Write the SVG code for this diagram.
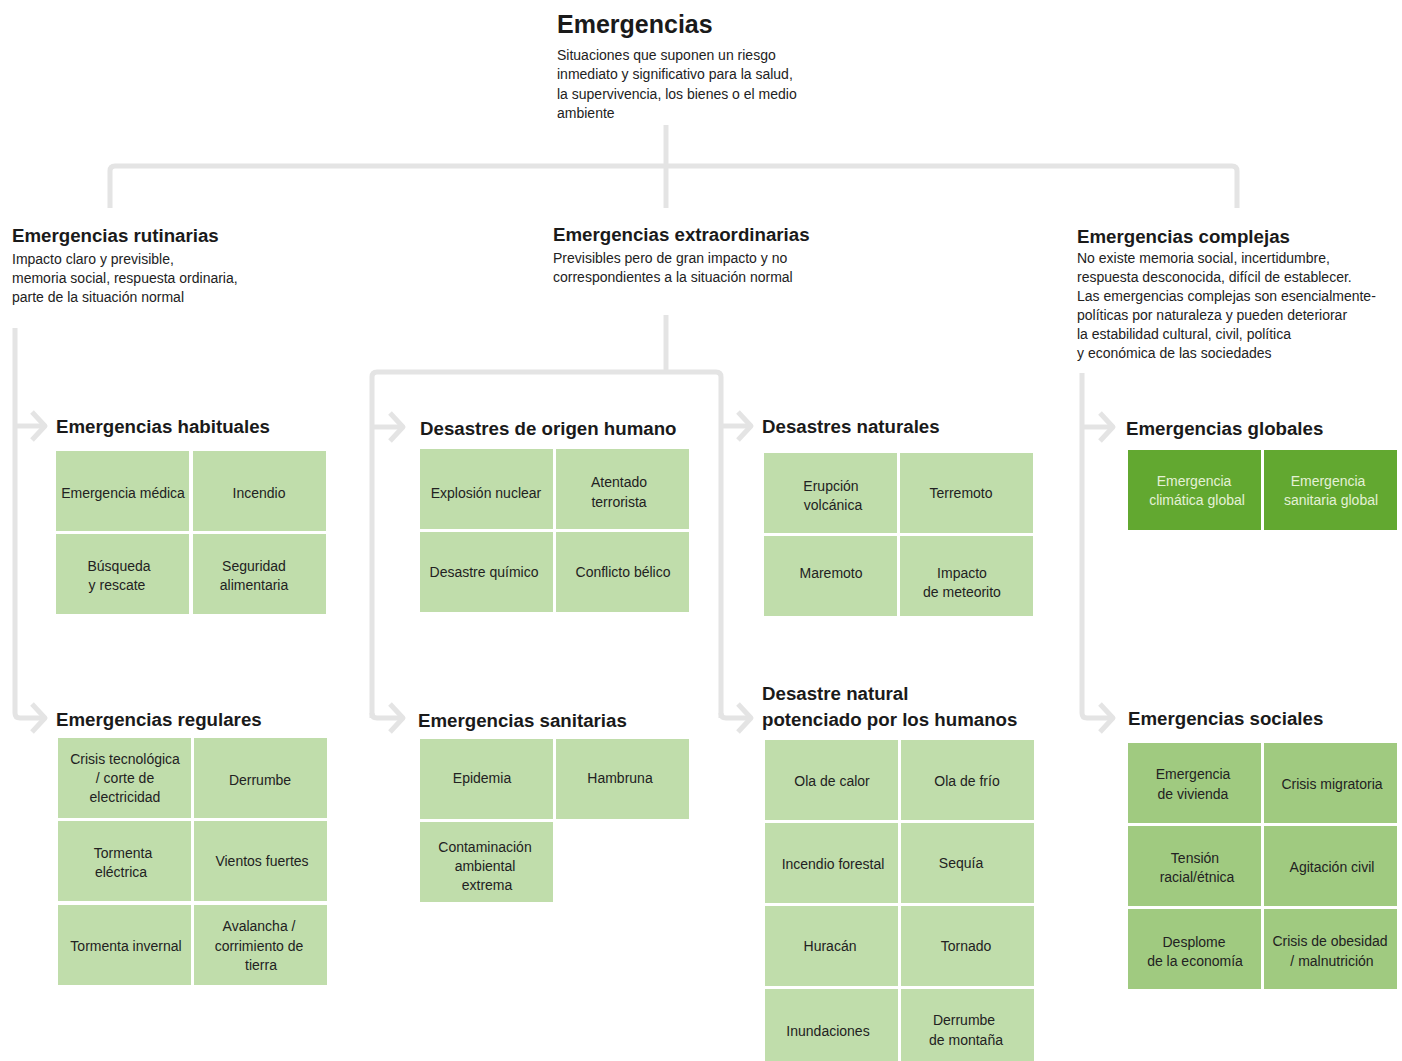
<svg xmlns="http://www.w3.org/2000/svg" width="1402" height="1061" viewBox="0 0 1402 1061">
<defs>
<style>
text{font-family:"Liberation Sans",Arial,sans-serif;fill:#1a1a1a}
.h1{font-size:25px;font-weight:bold}
.h2{font-size:18.7px;font-weight:bold}
.desc{font-size:14px;fill:#222}
.lbl{font-size:14px;fill:#222;text-anchor:middle}
.glbl{font-size:14px;fill:#e4f1d6;text-anchor:middle}
.cell{fill:#c0ddab}
.soc{fill:#a0ca80}
.glob{fill:#62a830}
.con{fill:none;stroke:#e4e4e4;stroke-width:5;stroke-linejoin:round;stroke-linecap:butt}
</style>
</defs>
<rect width="1402" height="1061" fill="#fff"/>
<g id="connectors">
<path class="con" d="M666 125 V208"/>
<path class="con" d="M110 208 V171 Q110 166 115 166 H1232 Q1237 166 1237 171 V208"/>
<path class="con" d="M666 315 V372"/>
<path class="con" d="M372 718 V377 Q372 372 377 372 H716 Q721 372 721 377 V718"/>
<path class="con" d="M15 328 V713 Q15 718 20 718 H45"/>
<path class="con" d="M15 426 H45"/>
<polyline class="con" points="32,412 45,426 32,440"/>
<polyline class="con" points="32,704 45,718 32,732"/>
<path class="con" d="M372 427 H403"/>
<path class="con" d="M372 713 Q372 718 377 718 H403"/>
<polyline class="con" points="390,413 403,427 390,441"/>
<polyline class="con" points="390,704 403,718 390,732"/>
<path class="con" d="M721 426 H751"/>
<path class="con" d="M721 713 Q721 718 726 718 H751"/>
<polyline class="con" points="738,412 751,426 738,440"/>
<polyline class="con" points="738,704 751,718 738,732"/>
<path class="con" d="M1082 373 V713 Q1082 718 1087 718 H1113"/>
<path class="con" d="M1082 427 H1113"/>
<polyline class="con" points="1100,413 1113,427 1100,441"/>
<polyline class="con" points="1100,704 1113,718 1100,732"/>
</g>
<g id="emergencias">
<text class="h1" x="557" y="33">Emergencias</text>
<text class="desc" x="557" y="60">Situaciones que suponen un riesgo</text>
<text class="desc" x="557" y="79">inmediato y significativo para la salud,</text>
<text class="desc" x="557" y="99">la supervivencia, los bienes o el medio</text>
<text class="desc" x="557" y="118">ambiente</text>
</g>
<g id="rutinarias">
<text class="h2" x="12" y="242">Emergencias rutinarias</text>
<text class="desc" x="12" y="264">Impacto claro y previsible,</text>
<text class="desc" x="12" y="283">memoria social, respuesta ordinaria,</text>
<text class="desc" x="12" y="302">parte de la situación normal</text>
</g>
<g id="extraordinarias">
<text class="h2" x="553" y="241">Emergencias extraordinarias</text>
<text class="desc" x="553" y="263">Previsibles pero de gran impacto y no</text>
<text class="desc" x="553" y="282">correspondientes a la situación normal</text>
</g>
<g id="complejas">
<text class="h2" x="1077" y="243">Emergencias complejas</text>
<text class="desc" x="1077" y="263">No existe memoria social, incertidumbre,</text>
<text class="desc" x="1077" y="282">respuesta desconocida, difícil de establecer.</text>
<text class="desc" x="1077" y="301">Las emergencias complejas son esencialmente-</text>
<text class="desc" x="1077" y="320">políticas por naturaleza y pueden deteriorar</text>
<text class="desc" x="1077" y="339">la estabilidad cultural, civil, política</text>
<text class="desc" x="1077" y="358">y económica de las sociedades</text>
</g>
<g id="habituales">
<text class="h2" x="56" y="433">Emergencias habituales</text>
<rect class="cell" x="56" y="451" width="133" height="80"/>
<rect class="cell" x="193" y="451" width="133" height="80"/>
<rect class="cell" x="56" y="534" width="133" height="80"/>
<rect class="cell" x="193" y="534" width="133" height="80"/>
<text class="lbl" x="123" y="498">Emergencia médica</text>
<text class="lbl" x="259" y="498">Incendio</text>
<text class="lbl" x="119" y="571">Búsqueda</text>
<text class="lbl" x="117" y="590">y rescate</text>
<text class="lbl" x="254" y="571">Seguridad</text>
<text class="lbl" x="254" y="590">alimentaria</text>
</g>
<g id="regulares">
<text class="h2" x="56" y="726">Emergencias regulares</text>
<rect class="cell" x="58" y="738" width="133" height="80"/>
<rect class="cell" x="194" y="738" width="133" height="80"/>
<rect class="cell" x="58" y="821" width="133" height="80"/>
<rect class="cell" x="194" y="821" width="133" height="80"/>
<rect class="cell" x="58" y="905" width="133" height="80"/>
<rect class="cell" x="194" y="905" width="133" height="80"/>
<text class="lbl" x="125" y="764">Crisis tecnológica</text>
<text class="lbl" x="125" y="783">/ corte de</text>
<text class="lbl" x="125" y="802">electricidad</text>
<text class="lbl" x="260" y="785">Derrumbe</text>
<text class="lbl" x="123" y="858">Tormenta</text>
<text class="lbl" x="121" y="877">eléctrica</text>
<text class="lbl" x="262" y="866">Vientos fuertes</text>
<text class="lbl" x="126" y="951">Tormenta invernal</text>
<text class="lbl" x="259" y="931">Avalancha /</text>
<text class="lbl" x="259" y="951">corrimiento de</text>
<text class="lbl" x="261" y="970">tierra</text>
</g>
<g id="origen-humano">
<text class="h2" x="420" y="435">Desastres de origen humano</text>
<rect class="cell" x="420" y="449" width="133" height="80"/>
<rect class="cell" x="556" y="449" width="133" height="80"/>
<rect class="cell" x="420" y="532" width="133" height="80"/>
<rect class="cell" x="556" y="532" width="133" height="80"/>
<text class="lbl" x="486" y="498">Explosión nuclear</text>
<text class="lbl" x="619" y="487">Atentado</text>
<text class="lbl" x="619" y="507">terrorista</text>
<text class="lbl" x="484" y="577">Desastre químico</text>
<text class="lbl" x="623" y="577">Conflicto bélico</text>
</g>
<g id="sanitarias">
<text class="h2" x="418" y="727">Emergencias sanitarias</text>
<rect class="cell" x="420" y="739" width="133" height="80"/>
<rect class="cell" x="556" y="739" width="133" height="80"/>
<rect class="cell" x="420" y="822" width="133" height="80"/>
<text class="lbl" x="482" y="783">Epidemia</text>
<text class="lbl" x="620" y="783">Hambruna</text>
<text class="lbl" x="485" y="852">Contaminación</text>
<text class="lbl" x="485" y="871">ambiental</text>
<text class="lbl" x="487" y="890">extrema</text>
</g>
<g id="naturales">
<text class="h2" x="762" y="433">Desastres naturales</text>
<rect class="cell" x="764" y="453" width="133" height="80"/>
<rect class="cell" x="900" y="453" width="133" height="80"/>
<rect class="cell" x="764" y="536" width="133" height="80"/>
<rect class="cell" x="900" y="536" width="133" height="80"/>
<text class="lbl" x="831" y="491">Erupción</text>
<text class="lbl" x="833" y="510">volcánica</text>
<text class="lbl" x="961" y="498">Terremoto</text>
<text class="lbl" x="831" y="578">Maremoto</text>
<text class="lbl" x="962" y="578">Impacto</text>
<text class="lbl" x="962" y="597">de meteorito</text>
</g>
<g id="potenciado">
<text class="h2" x="762" y="700">Desastre natural</text>
<text class="h2" x="762" y="726">potenciado por los humanos</text>
<rect class="cell" x="765" y="740" width="133" height="80"/>
<rect class="cell" x="901" y="740" width="133" height="80"/>
<rect class="cell" x="765" y="823" width="133" height="80"/>
<rect class="cell" x="901" y="823" width="133" height="80"/>
<rect class="cell" x="765" y="906" width="133" height="80"/>
<rect class="cell" x="901" y="906" width="133" height="80"/>
<rect class="cell" x="765" y="989" width="133" height="80"/>
<rect class="cell" x="901" y="989" width="133" height="80"/>
<text class="lbl" x="832" y="786">Ola de calor</text>
<text class="lbl" x="967" y="786">Ola de frío</text>
<text class="lbl" x="833" y="869">Incendio forestal</text>
<text class="lbl" x="961" y="868">Sequía</text>
<text class="lbl" x="830" y="951">Huracán</text>
<text class="lbl" x="966" y="951">Tornado</text>
<text class="lbl" x="828" y="1036">Inundaciones</text>
<text class="lbl" x="964" y="1025">Derrumbe</text>
<text class="lbl" x="966" y="1045">de montaña</text>
</g>
<g id="globales">
<text class="h2" x="1126" y="435">Emergencias globales</text>
<rect class="glob" x="1128" y="450" width="133" height="80"/>
<rect class="glob" x="1264" y="450" width="133" height="80"/>
<text class="glbl" x="1194" y="486">Emergencia</text>
<text class="glbl" x="1197" y="505">climática global</text>
<text class="glbl" x="1328" y="486">Emergencia</text>
<text class="glbl" x="1331" y="505">sanitaria global</text>
</g>
<g id="sociales">
<text class="h2" x="1128" y="725">Emergencias sociales</text>
<rect class="soc" x="1128" y="743" width="133" height="80"/>
<rect class="soc" x="1264" y="743" width="133" height="80"/>
<rect class="soc" x="1128" y="826" width="133" height="80"/>
<rect class="soc" x="1264" y="826" width="133" height="80"/>
<rect class="soc" x="1128" y="909" width="133" height="80"/>
<rect class="soc" x="1264" y="909" width="133" height="80"/>
<text class="lbl" x="1193" y="779">Emergencia</text>
<text class="lbl" x="1193" y="799">de vivienda</text>
<text class="lbl" x="1332" y="789">Crisis migratoria</text>
<text class="lbl" x="1195" y="863">Tensión</text>
<text class="lbl" x="1197" y="882">racial/étnica</text>
<text class="lbl" x="1332" y="872">Agitación civil</text>
<text class="lbl" x="1194" y="947">Desplome</text>
<text class="lbl" x="1195" y="966">de la economía</text>
<text class="lbl" x="1330" y="946">Crisis de obesidad</text>
<text class="lbl" x="1332" y="966">/ malnutrición</text>
</g>
</svg>
